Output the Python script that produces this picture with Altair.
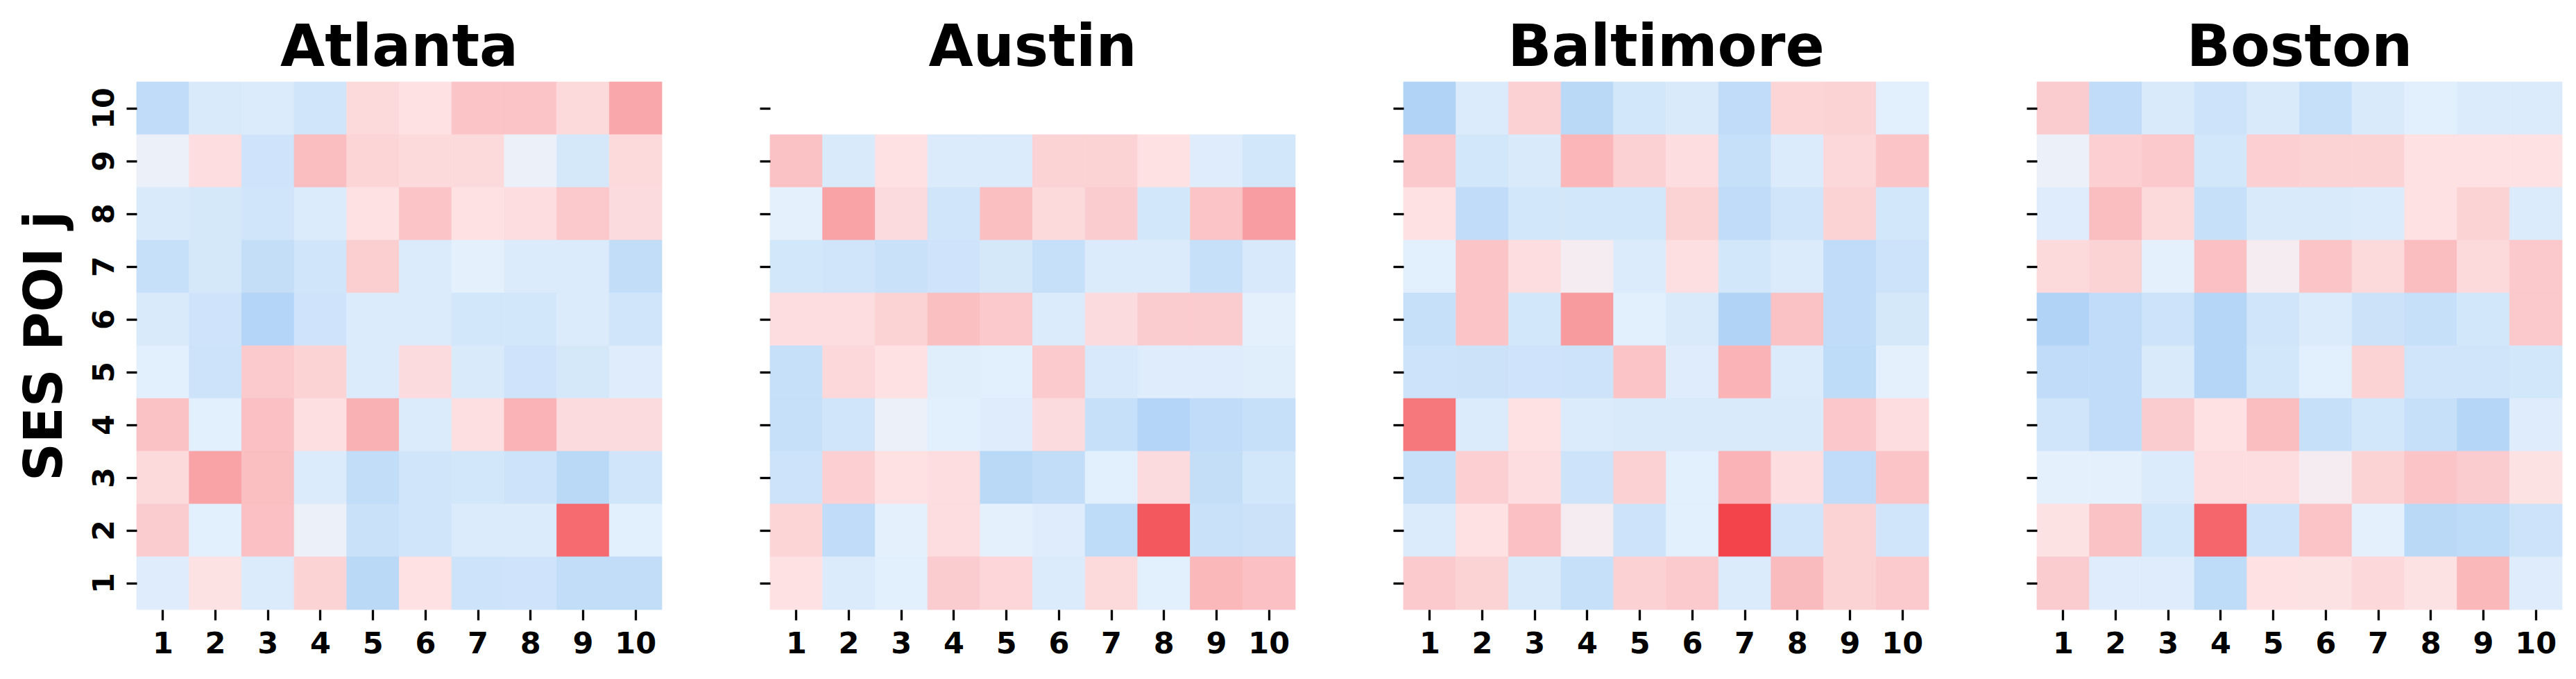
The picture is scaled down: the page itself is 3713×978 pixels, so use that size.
import altair as alt
import pandas as pd

cities = ["Atlanta", "Austin", "Baltimore", "Boston"]
poi_i = list(range(1, 11))
poi_j_top_down = list(range(10, 0, -1))

# rows listed from j = 10 (top) down to j = 1 (bottom); columns i = 1..10
atlanta = [
    [-0.23, -0.11, -0.10, -0.155, 0.12, 0.08, 0.24, 0.24, 0.12, 0.42],
    [-0.02, 0.10, -0.16, 0.29, 0.15, 0.12, 0.12, -0.02, -0.13, 0.12],
    [-0.11, -0.13, -0.15, -0.10, 0.08, 0.24, 0.08, 0.10, 0.22, 0.11],
    [-0.20, -0.13, -0.21, -0.15, 0.19, -0.10, -0.06, -0.10, -0.10, -0.22],
    [-0.11, -0.16, -0.29, -0.16, -0.10, -0.10, -0.14, -0.14, -0.10, -0.15],
    [-0.07, -0.17, 0.21, 0.16, -0.10, 0.11, -0.11, -0.16, -0.13, -0.09],
    [0.26, -0.07, 0.27, 0.09, 0.36, -0.10, 0.09, 0.35, 0.11, 0.11],
    [0.12, 0.44, 0.28, -0.10, -0.22, -0.15, -0.14, -0.17, -0.26, -0.15],
    [0.20, -0.07, 0.27, -0.02, -0.19, -0.15, -0.10, -0.10, 0.77, -0.07],
    [-0.09, 0.07, -0.10, 0.16, -0.26, 0.08, -0.17, -0.16, -0.22, -0.22],
]
austin = [
    [None, None, None, None, None, None, None, None, None, None],
    [0.26, -0.11, 0.08, -0.10, -0.10, 0.16, 0.16, 0.08, -0.09, -0.14],
    [-0.06, 0.44, 0.11, -0.155, 0.28, 0.12, 0.20, -0.14, 0.25, 0.47],
    [-0.14, -0.15, -0.19, -0.16, -0.13, -0.20, -0.10, -0.10, -0.20, -0.12],
    [0.10, 0.10, 0.16, 0.28, 0.22, -0.10, 0.11, 0.20, 0.20, -0.06],
    [-0.20, 0.13, 0.08, -0.08, -0.07, 0.21, -0.12, -0.09, -0.09, -0.08],
    [-0.20, -0.15, -0.02, -0.07, -0.09, 0.11, -0.20, -0.29, -0.23, -0.20],
    [-0.17, 0.18, 0.08, 0.10, -0.26, -0.22, -0.07, 0.11, -0.21, -0.14],
    [0.15, -0.23, -0.06, 0.10, -0.06, -0.09, -0.24, 0.88, -0.19, -0.18],
    [0.08, -0.10, -0.07, 0.20, 0.14, -0.10, 0.12, -0.07, 0.32, 0.27],
]
baltimore = [
    [-0.30, -0.10, 0.17, -0.26, -0.14, -0.11, -0.23, 0.15, 0.16, -0.07],
    [0.22, -0.14, -0.11, 0.33, 0.17, 0.10, -0.20, -0.10, 0.13, 0.24],
    [0.08, -0.23, -0.14, -0.14, -0.14, 0.16, -0.23, -0.155, 0.16, -0.14],
    [-0.07, 0.24, 0.10, 0.02, -0.10, 0.09, -0.14, -0.10, -0.23, -0.17],
    [-0.20, 0.24, -0.14, 0.49, -0.07, -0.11, -0.30, 0.26, -0.23, -0.13],
    [-0.17, -0.18, -0.16, -0.17, 0.24, -0.09, 0.34, -0.10, -0.24, -0.06],
    [0.70, -0.10, 0.08, -0.10, -0.11, -0.11, -0.11, -0.11, 0.23, 0.10],
    [-0.20, 0.18, 0.10, -0.17, 0.17, -0.07, 0.35, 0.10, -0.23, 0.24],
    [-0.10, 0.08, 0.27, 0.02, -0.17, -0.07, 1.00, -0.155, 0.16, -0.155],
    [0.21, 0.16, -0.11, -0.20, 0.17, 0.21, -0.10, 0.30, 0.16, 0.21],
]
boston = [
    [0.20, -0.23, -0.11, -0.17, -0.11, -0.20, -0.11, -0.07, -0.10, -0.10],
    [-0.02, 0.18, 0.22, -0.14, 0.18, 0.16, 0.16, 0.08, 0.08, 0.08],
    [-0.09, 0.29, 0.12, -0.20, -0.11, -0.11, -0.10, 0.08, 0.16, -0.10],
    [0.12, 0.16, -0.06, 0.27, 0.02, 0.24, 0.12, 0.29, 0.12, 0.22],
    [-0.30, -0.23, -0.17, -0.28, -0.155, -0.10, -0.18, -0.20, -0.14, 0.22],
    [-0.23, -0.23, -0.11, -0.28, -0.14, -0.07, 0.16, -0.155, -0.155, -0.14],
    [-0.15, -0.23, 0.20, 0.08, 0.29, -0.20, -0.14, -0.20, -0.28, -0.09],
    [-0.06, -0.06, -0.10, 0.10, 0.10, 0.02, 0.16, 0.24, 0.20, 0.07],
    [0.07, 0.26, -0.14, 0.80, -0.17, 0.24, -0.06, -0.26, -0.24, -0.17],
    [0.20, -0.09, -0.09, -0.24, 0.08, 0.07, 0.13, 0.07, 0.32, -0.09],
]

matrices = {"Atlanta": atlanta, "Austin": austin, "Baltimore": baltimore, "Boston": boston}

records = []
for city in cities:
    mat = matrices[city]
    for r, j in enumerate(poi_j_top_down):
        for c, i in enumerate(poi_i):
            v = mat[r][c]
            if v is not None:
                records.append({"city": city, "i": i, "j": j, "v": v})
df = pd.DataFrame(records)

cmap_domain = [-1, -0.06, 0, 0.06, 1]
cmap_range = ["#1e82e6", "#e4f0fc", "#f0f0f6", "#fde4e6", "#f2444a"]


def panel(city, first):
    if first:
        yaxis = alt.Axis(title="SES POI j", labelAngle=270, labelAlign="center",
                         labelBaseline="bottom", labelPadding=10, titlePadding=25)
    else:
        yaxis = alt.Axis(title=None, labels=False)
    sc = alt.Scale(domain=cmap_domain, range=cmap_range, interpolate="rgb")
    return (
        alt.Chart(df[df["city"] == city])
        .mark_rect(strokeWidth=0.8)
        .encode(
            x=alt.X("i:O", scale=alt.Scale(domain=poi_i, paddingInner=0, paddingOuter=0),
                    axis=alt.Axis(title=None, labelAngle=0, labelPadding=13)),
            y=alt.Y("j:O", scale=alt.Scale(domain=poi_j_top_down, paddingInner=0, paddingOuter=0),
                    axis=yaxis),
            color=alt.Color("v:Q", scale=sc, legend=None),
            stroke=alt.Stroke("v:Q", scale=sc, legend=None),
        )
        .properties(width=757, height=760, title=alt.TitleParams(city))
    )


chart = (
    alt.hconcat(*[panel(c, k == 0) for k, c in enumerate(cities)], spacing=138)
    .resolve_scale(color="shared", stroke="shared")
    .properties(padding={"left": 19, "top": 20, "right": 5, "bottom": 5})
    .configure_view(strokeWidth=0)
    .configure_axis(
        domain=False,
        tickColor="black",
        tickWidth=3.3,
        tickSize=15,
        labelFont="DejaVu Sans",
        labelFontWeight="bold",
        labelFontSize=43,
        labelColor="black",
        titleFont="DejaVu Sans",
        titleFontWeight="bold",
        titleFontSize=76,
        titleColor="black",
    )
    .configure_title(font="DejaVu Sans", fontSize=83, fontWeight="bold", color="black", offset=6)
)

chart.save("out.html", embed_options={"renderer": "svg", "actions": False})
